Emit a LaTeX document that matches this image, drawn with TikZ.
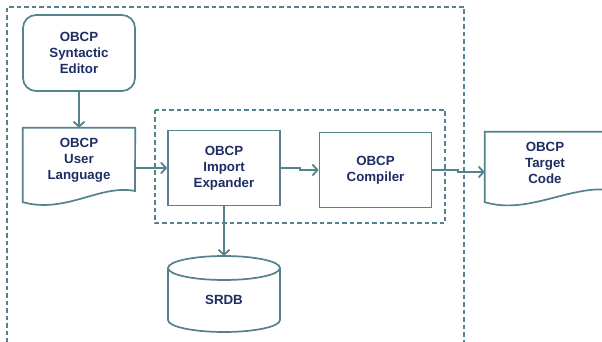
\documentclass[tikz,border=0pt]{standalone}
\usepackage{fontspec}
\setmainfont{Liberation Sans}
\usetikzlibrary{arrows.meta}
\definecolor{ln}{HTML}{54828D}
\definecolor{tx}{HTML}{1E2D64}
\begin{document}
\begin{tikzpicture}[x=1pt,y=-1pt,
  shapeline/.style={draw=ln, line width=1.7pt},
  frame/.style={draw=ln, line width=1.5pt, dash pattern=on 4.5pt off 3pt},
  lbl/.style={align=center, inner sep=0pt, text=tx, font=\fontsize{13.3}{16}\selectfont\bfseries},
  holder/.style={inner sep=0pt, minimum width=112pt, minimum height=75pt},
  procbox/.style={holder, shapeline, lbl},
  arr/.style={draw=ln, line width=1.8pt, -{Straight Barb[length=5pt,width=11pt,line width=1.8pt]}}]
\useasboundingbox (0,0) rectangle (602,342);
\clip (0,0) rectangle (602,342);
\fill[white] (0,0) rectangle (602,342);
% dashed frames
\draw[frame] (7,350) -- (7,7) -- (464,7) -- (464,350);
\draw[frame] (155,110) rectangle (445,223);
% editor
\node[procbox, rounded corners=13pt, minimum height=76pt] (ed) at (79,53) {OBCP\\Syntactic\\Editor};
% user language document
\node[holder, minimum height=74pt] (ul) at (79,165) {};
\draw[shapeline, fill=white] (ul.north west) -- (ul.north east) -- (135,191)
  .. controls (100,184) and (66,214) .. (ul.south west) -- cycle;
\node[lbl] (ult) at (79,160) {OBCP\\User\\Language};
% import expander
\node[procbox, fill=white] (ie) at (224,168) {OBCP\\Import\\Expander};
% compiler
\node[procbox, fill=white] (cp) at (375.5,170) {OBCP\\Compiler};
% target code document
\node[holder, minimum width=125pt, minimum height=70pt] (tc) at (547.5,167) {};
\draw[shapeline, fill=white] (tc.south west) -- (tc.north west) -- (tc.north east) -- (610,190)
  .. controls (570,185) and (528,215) .. (tc.south west) -- cycle;
\node[lbl] (tct) at (545,163) {OBCP\\Target\\Code};
% SRDB cylinder
\node[holder, minimum height=76pt] (db) at (224,294) {};
\draw[shapeline, fill=white] (168,268) -- (168,320)
  .. controls (168,326.6) and (193,332) .. (224,332)
  .. controls (255,332) and (280,326.6) .. (280,320) -- (280,268);
\draw[shapeline, fill=white] (224,268) ellipse [x radius=56pt, y radius=12pt];
\node[lbl] (dbt) at (224,300) {SRDB};
% connectors
\coordinate (j1) at (300,168);
\coordinate (j2) at (458,170);
\draw[arr] (ed.south) -- (ul.north);
\draw[arr] (ul.east |- ie.west) -- (ie.west);
\draw[arr] (ie.east) -- (j1) -- (j1 |- cp.west) -- (cp.west);
\draw[arr] (cp.east) -- (j2) -- ++(0,2) -- (tc.west |- 0,172);
\draw[arr] (ie.south) -- (224,256);
\end{tikzpicture}
\end{document}
